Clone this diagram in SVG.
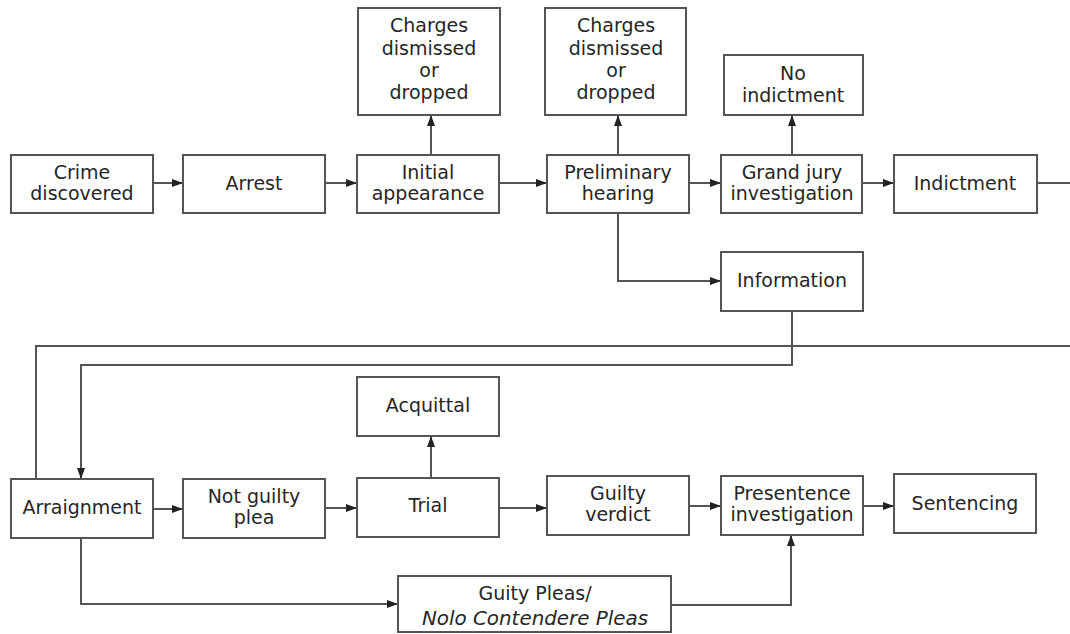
<svg xmlns="http://www.w3.org/2000/svg" width="1070" height="634" viewBox="0 0 1070 634">
<defs>
<marker id="ah" markerWidth="11" markerHeight="8" refX="11" refY="4" orient="auto" markerUnits="userSpaceOnUse">
<path d="M0,0 L11,4 L0,8 z" fill="#222"/>
</marker>
<style>
.box{fill:#fff;stroke:#555;stroke-width:2}
.t{font-family:"DejaVu Sans","Open Sans",sans-serif;font-size:19px;fill:#262626;text-anchor:middle}
.i{font-style:italic}
.c{fill:none;stroke:#555;stroke-width:2}
.a{marker-end:url(#ah)}
</style>
</defs>
<rect width="1070" height="634" fill="#fff"/>
<g id="connectors">
<path class="c a" d="M153 183 H183"/>
<path class="c a" d="M325 183 H357"/>
<path class="c a" d="M499 183 H547"/>
<path class="c a" d="M689 183 H721"/>
<path class="c a" d="M862 183 H894"/>
<path class="c" d="M1037 183 H1070"/>
<path class="c a" d="M431 154 V115"/>
<path class="c a" d="M618 155 V115"/>
<path class="c a" d="M792 154 V115"/>
<path class="c a" d="M618 213 V281 H721"/>
<path class="c" d="M1070 346 H36 V479"/>
<path class="c a" d="M792 311 V365 H81 V479"/>
<path class="c a" d="M153 509 H183"/>
<path class="c a" d="M325 508 H357"/>
<path class="c a" d="M499 508 H547"/>
<path class="c a" d="M689 506 H721"/>
<path class="c a" d="M863 506 H894"/>
<path class="c a" d="M431 478 V436"/>
<path class="c a" d="M81 538 V604 H398"/>
<path class="c a" d="M671 605 H791 V535"/>
</g>
<g id="crime"><rect class="box" x="11" y="155" width="142" height="58"/><text class="t" x="82" y="179">Crime</text><text class="t" x="82" y="200">discovered</text></g>
<g id="arrest"><rect class="box" x="183" y="155" width="142" height="58"/><text class="t" x="254" y="190">Arrest</text></g>
<g id="initial"><rect class="box" x="357" y="155" width="142" height="58"/><text class="t" x="428" y="179">Initial</text><text class="t" x="428" y="200">appearance</text></g>
<g id="dismissed1"><rect class="box" x="358" y="8" width="142" height="107"/><text class="t" x="429" y="32">Charges</text><text class="t" x="429" y="55">dismissed</text><text class="t" x="429" y="77">or</text><text class="t" x="429" y="99">dropped</text></g>
<g id="preliminary"><rect class="box" x="547" y="155" width="142" height="58"/><text class="t" x="618" y="179">Preliminary</text><text class="t" x="618" y="200">hearing</text></g>
<g id="dismissed2"><rect class="box" x="545" y="8" width="141" height="107"/><text class="t" x="616" y="32">Charges</text><text class="t" x="616" y="55">dismissed</text><text class="t" x="616" y="77">or</text><text class="t" x="616" y="99">dropped</text></g>
<g id="grandjury"><rect class="box" x="721" y="155" width="141" height="58"/><text class="t" x="792" y="179">Grand jury</text><text class="t" x="792" y="200">investigation</text></g>
<g id="noindictment"><rect class="box" x="724" y="55" width="139" height="60"/><text class="t" x="793" y="80">No</text><text class="t" x="793" y="102">indictment</text></g>
<g id="indictment"><rect class="box" x="894" y="155" width="143" height="58"/><text class="t" x="965" y="190">Indictment</text></g>
<g id="information"><rect class="box" x="721" y="252" width="142" height="59"/><text class="t" x="792" y="287">Information</text></g>
<g id="arraignment"><rect class="box" x="11" y="479" width="142" height="59"/><text class="t" x="82" y="514">Arraignment</text></g>
<g id="notguilty"><rect class="box" x="183" y="479" width="142" height="59"/><text class="t" x="254" y="503">Not guilty</text><text class="t" x="254" y="524">plea</text></g>
<g id="trial"><rect class="box" x="357" y="478" width="142" height="59"/><text class="t" x="428" y="512">Trial</text></g>
<g id="acquittal"><rect class="box" x="357" y="377" width="142" height="59"/><text class="t" x="428" y="412">Acquittal</text></g>
<g id="guiltyverdict"><rect class="box" x="547" y="476" width="142" height="59"/><text class="t" x="618" y="500">Guilty</text><text class="t" x="618" y="521">verdict</text></g>
<g id="presentence"><rect class="box" x="721" y="476" width="142" height="59"/><text class="t" x="792" y="500">Presentence</text><text class="t" x="792" y="521">investigation</text></g>
<g id="sentencing"><rect class="box" x="894" y="474" width="142" height="59"/><text class="t" x="965" y="510">Sentencing</text></g>
<g id="guiltypleas"><rect class="box" x="398" y="576" width="273" height="56"/><text class="t" x="535" y="600">Guity Pleas/</text><text class="t i" x="535" y="625" textLength="226" lengthAdjust="spacingAndGlyphs">Nolo Contendere Pleas</text></g>
</svg>
